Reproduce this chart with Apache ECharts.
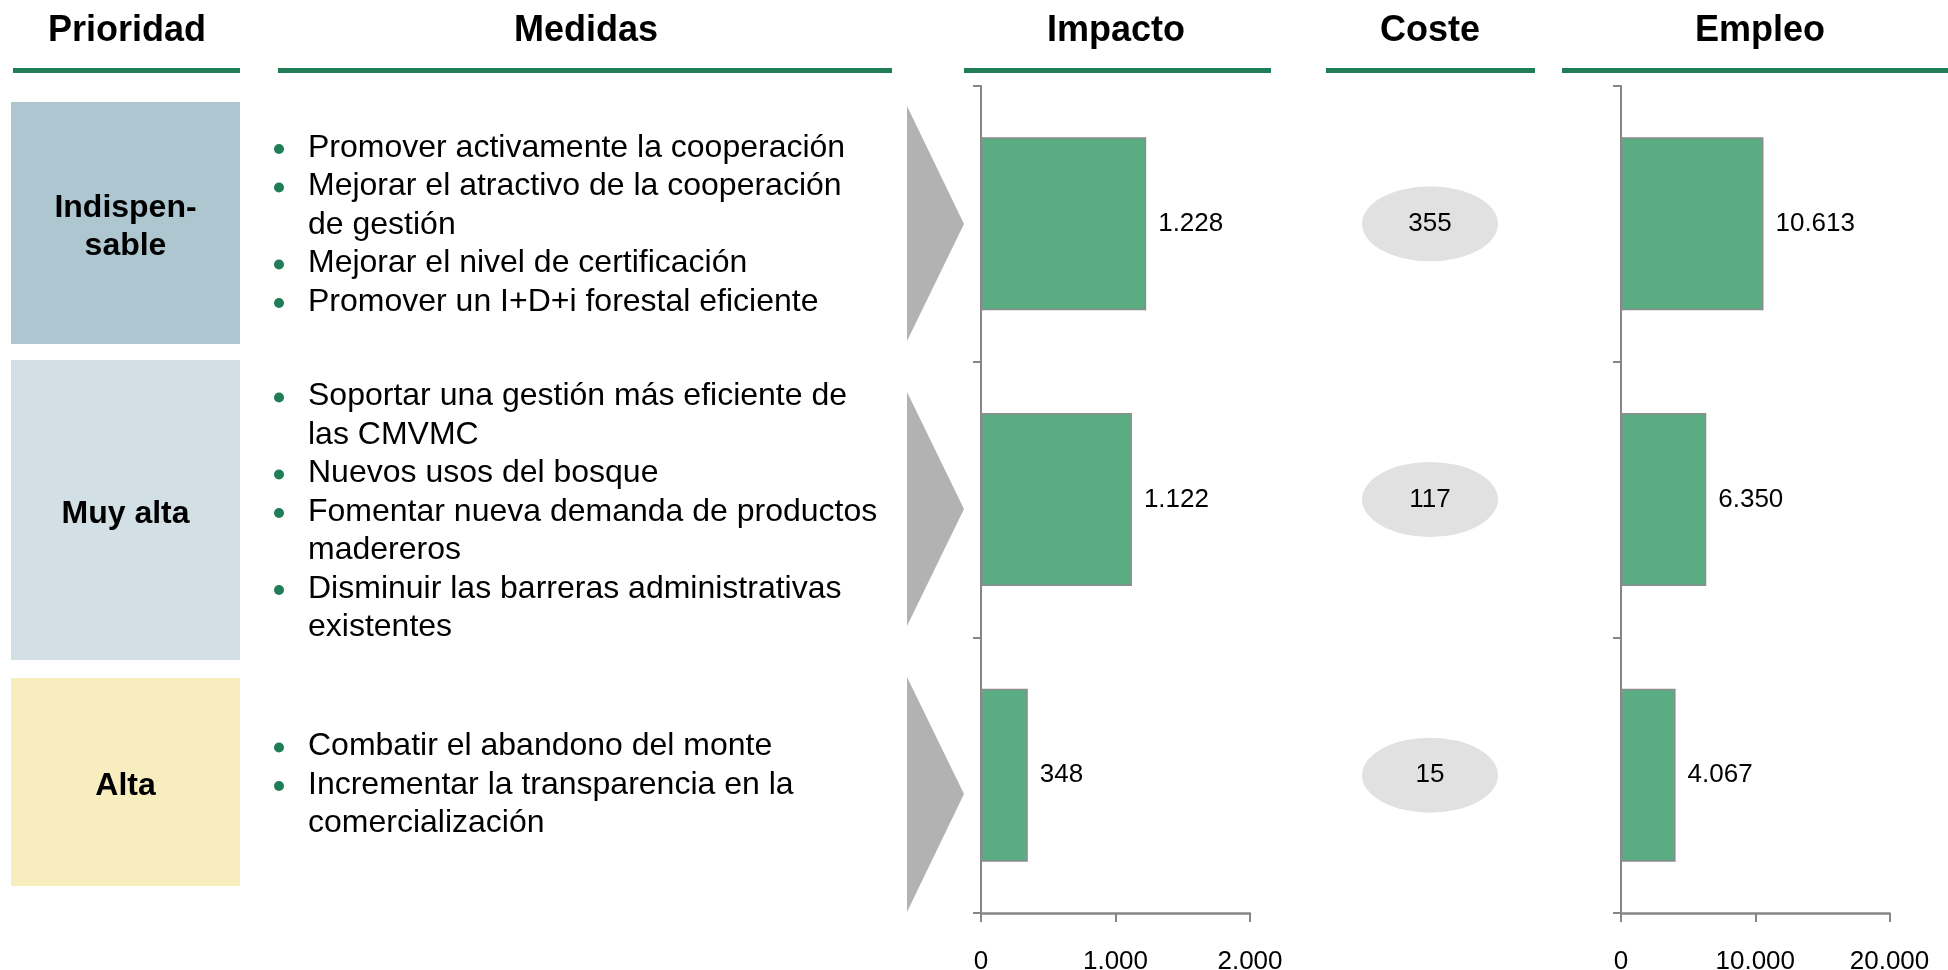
<!DOCTYPE html>
<html>
<head>
<meta charset="utf-8">
<script src="https://cdn.jsdelivr.net/npm/echarts@6/dist/echarts.min.js"></script>
<style>html,body{margin:0;padding:0;background:#fff}#c{width:1948px;height:970px}</style>
</head>
<body>
<div id="c"></div>
<script>
// ---- data ----
const categories = ['Indispensable', 'Muy alta', 'Alta'];
const priorityLabels = ['Indispen-\nsable', 'Muy alta', 'Alta'];
const headers = ['Prioridad', 'Medidas', 'Impacto', 'Coste', 'Empleo'];
const medidas1 = [
  ['Promover activamente la cooperación'],
  ['Mejorar el atractivo de la cooperación', 'de gestión'],
  ['Mejorar el nivel de certificación'],
  ['Promover un I+D+i forestal eficiente']
];
const medidas2 = [
  ['Soportar una gestión más eficiente de', 'las CMVMC'],
  ['Nuevos usos del bosque'],
  ['Fomentar nueva demanda de productos', 'madereros'],
  ['Disminuir las barreras administrativas', 'existentes']
];
const medidas3 = [
  ['Combatir el abandono del monte'],
  ['Incrementar la transparencia en la', 'comercialización']
];
const impacto = [1228, 1122, 348];
const coste = [355, 117, 15];
const empleo = [10613, 6350, 4067];
const impactoAxis = { min: 0, max: 2000, interval: 1000 };
const empleoAxis = { min: 0, max: 20000, interval: 10000 };

// ---- helpers ----
const FONT = '"Liberation Sans", Arial, Helvetica, sans-serif';
const GREEN = '#1f7d58';
const fmt = v => String(v).replace(/\B(?=(\d{3})+(?!\d))/g, '.');

const graphic = [];
// headers
const headerX = [127, 586, 1116, 1430, 1760];
const headerLines = [[13, 240], [278, 892], [964, 1271], [1326, 1535], [1562, 1948]];
headers.forEach((h, i) => {
  graphic.push({ type: 'text', x: headerX[i], y: 31, style: { text: h, font: 'bold 36px ' + FONT, fill: '#000', align: 'center', verticalAlign: 'middle' } });
  graphic.push({ type: 'rect', shape: { x: headerLines[i][0], y: 68, width: headerLines[i][1] - headerLines[i][0], height: 5 }, style: { fill: GREEN } });
});
// priority boxes
const boxes = [[102, 242, '#adc6d0'], [360, 300, '#d2dfe5'], [678, 208, '#f8edbe']];
boxes.forEach((b, i) => {
  graphic.push({ type: 'rect', shape: { x: 11, y: b[0], width: 229, height: b[1] }, style: { fill: b[2] } });
  graphic.push({ type: 'text', x: 125.5, y: b[0] + b[1] / 2 + 4, style: { text: priorityLabels[i], font: 'bold 32px ' + FONT, lineHeight: 38.5, fill: '#000', align: 'center', verticalAlign: 'middle' } });
});
// measures
const blocks = [[medidas1, 225], [medidas2, 512], [medidas3, 785]];
blocks.forEach(([items, cy]) => {
  const lines = [];
  items.forEach(it => it.forEach((l, j) => lines.push([l, j === 0])));
  const y0 = cy - (lines.length - 1) / 2 * 38.5;
  lines.forEach((ln, k) => {
    const y = y0 + k * 38.5;
    graphic.push({ type: 'text', x: 308, y: y, style: { text: ln[0], font: '32px ' + FONT, fill: '#000', align: 'left', verticalAlign: 'middle' } });
    if (ln[1]) graphic.push({ type: 'circle', shape: { cx: 279, cy: y + 1, r: 5 }, style: { fill: GREEN } });
  });
});
// arrows
[[106, 224, 341], [392, 509, 626], [677, 794, 912]].forEach(a => {
  graphic.push({ type: 'polygon', shape: { points: [[907, a[0]], [964, a[1]], [907, a[2]]] }, style: { fill: '#b2b2b2' } });
});

const axisLineStyle = { color: '#868686', width: 2 };
function catAxis(gi, show) {
  return {
    type: 'category', gridIndex: gi, data: categories, inverse: true, show: show,
    axisLine: { show: true, lineStyle: axisLineStyle },
    axisTick: { show: true, inside: false, length: 8, lineStyle: axisLineStyle },
    axisLabel: { show: false }, splitLine: { show: false }
  };
}
function valAxis(gi, ax) {
  return {
    type: 'value', gridIndex: gi, min: ax.min, max: ax.max, interval: ax.interval,
    axisLine: { show: true, lineStyle: { color: '#868686', width: 2.5 } },
    axisTick: { show: true, inside: false, length: 9, lineStyle: { color: '#868686', width: 2 } },
    axisLabel: { show: true, margin: 36, color: '#000', fontFamily: FONT, fontSize: 26, formatter: v => fmt(v) },
    splitLine: { show: false }
  };
}
const barStyle = { color: '#5aad83', borderColor: '#8c8c8c', borderWidth: 1.5 };
const barLabel = { show: true, position: 'right', distance: 12, color: '#000', fontFamily: FONT, fontSize: 26, formatter: p => fmt(p.value) };

const option = {
  animation: false,
  backgroundColor: '#fff',
  grid: [
    { left: 981, top: 86, width: 269, height: 827, containLabel: false, outerBoundsMode: 'none' },
    { left: 1330, top: 86, width: 200, height: 827, containLabel: false, outerBoundsMode: 'none' },
    { left: 1621, top: 86, width: 268.5, height: 827, containLabel: false, outerBoundsMode: 'none' }
  ],
  xAxis: [
    valAxis(0, impactoAxis),
    { type: 'value', gridIndex: 1, min: -1, max: 1, show: false },
    valAxis(2, empleoAxis)
  ],
  yAxis: [catAxis(0, true), catAxis(1, false), catAxis(2, true)],
  series: [
    { type: 'bar', xAxisIndex: 0, yAxisIndex: 0, data: impacto, barWidth: 173, itemStyle: barStyle, label: barLabel },
    {
      type: 'scatter', xAxisIndex: 1, yAxisIndex: 1, symbol: 'circle', symbolSize: [136, 75],
      data: coste.map((v, i) => ({ value: [0, categories[i]], coste: v })),
      itemStyle: { color: '#e1e1e1', opacity: 1 },
      label: { show: true, position: 'inside', color: '#000', fontFamily: FONT, fontSize: 26, formatter: p => fmt(p.data.coste) }
    },
    { type: 'bar', xAxisIndex: 2, yAxisIndex: 2, data: empleo, barWidth: 173, itemStyle: barStyle, label: barLabel }
  ],
  graphic: graphic
};
const chart = echarts.init(document.getElementById('c'), null, { renderer: 'canvas' });
chart.setOption(option);
</script>
</body>
</html>
